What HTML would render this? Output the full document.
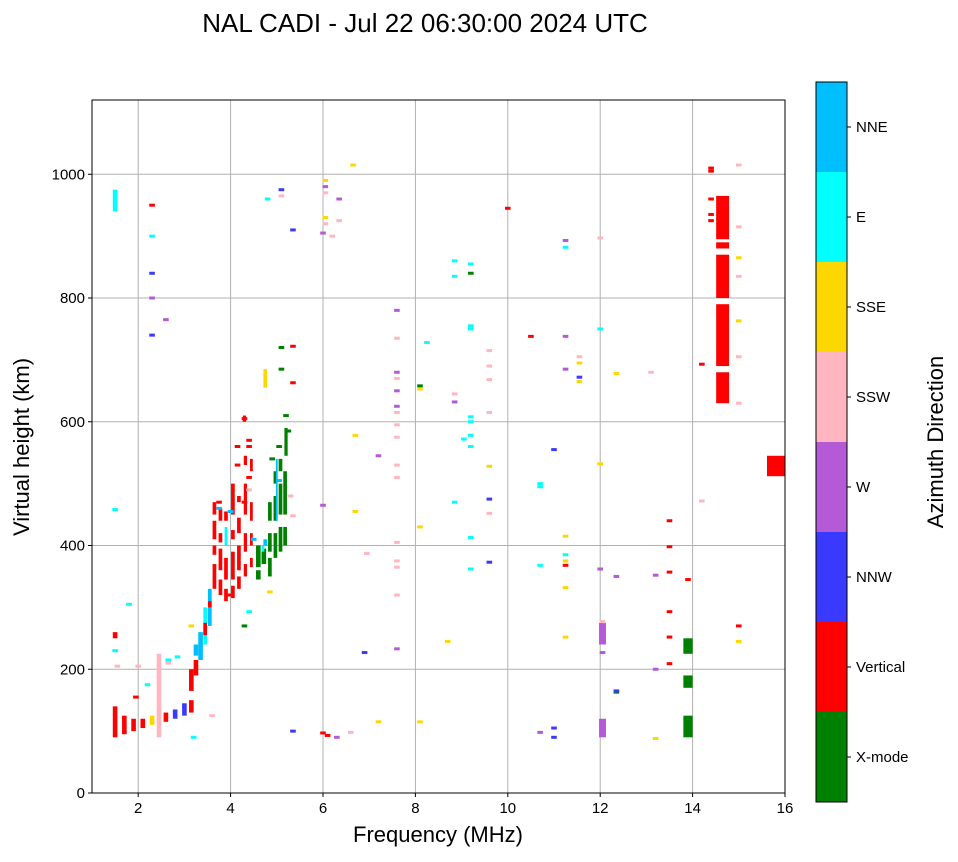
<!DOCTYPE html>
<html><head><meta charset="utf-8">
<style>
body{margin:0;background:#fff;font-family:"Liberation Sans",sans-serif;}
svg text{font-family:"Liberation Sans",sans-serif;}
</style></head>
<body>
<svg id="chart" width="958" height="857" xmlns="http://www.w3.org/2000/svg">
<text x="425" y="32" font-size="26" text-anchor="middle">NAL CADI - Jul 22 06:30:00 2024 UTC</text>
<g id="grid"></g>
<g id="marks"></g>
<rect x="92" y="100" width="693" height="693" fill="none" stroke="#000" stroke-width="1"/>
<g id="ticks"></g>
<text x="438" y="842" font-size="22" text-anchor="middle">Frequency (MHz)</text>
<text x="0" y="0" font-size="22" text-anchor="middle" transform="translate(29,447) rotate(-90)">Virtual height (km)</text>
<g id="cbar"></g>
<text x="0" y="0" font-size="22" text-anchor="middle" transform="translate(943,442) rotate(-90)">Azimuth Direction</text>
</svg>
<script>
const categories=["X-mode","Vertical","NNW","W","SSW","SSE","E","NNE"];
const catColors=["#008000","#ff0000","#3a3aff","#b45ad6","#ffb6c1","#ffd700","#00ffff","#00bfff"];
const xTicks=[2,4,6,8,10,12,14,16];
const yTicks=[0,200,400,600,800,1000];
// spans: [freq, h0, h1, category, bandwidth MHz]
const spans=[
[3.15,130,150,1,0.1],[3.15,165,200,1,0.1],[3.25,190,215,1,0.1],[3.25,222,240,7,0.1],[3.35,215,260,7,0.1],[3.45,240,300,6,0.08],[3.45,255,275,1,0.08],
[3.55,270,330,7,0.08],[3.55,300,310,1,0.08],
[3.65,330,370,1,0.08],[3.65,385,400,1,0.08],[3.65,410,440,1,0.08],[3.65,450,470,1,0.08],
[3.78,320,345,1,0.08],[3.78,360,395,1,0.08],[3.78,405,420,1,0.08],[3.78,440,460,1,0.08],
[3.9,310,330,1,0.08],[3.9,345,380,1,0.08],[3.9,400,430,6,0.06],[3.9,440,455,1,0.08],
[4.05,315,335,1,0.08],[4.05,345,390,1,0.08],[4.05,410,425,1,0.08],[4.05,450,500,1,0.08],
[4.18,330,350,1,0.08],[4.18,360,400,1,0.08],[4.18,420,445,1,0.08],[4.18,470,480,1,0.08],
[4.32,350,370,1,0.07],[4.32,390,420,1,0.07],[4.32,450,500,1,0.07],[4.32,530,545,1,0.07],[4.3,600,610,1,0.07],
[4.45,365,380,1,0.06],[4.45,400,420,1,0.06],[4.45,440,470,1,0.06],[4.45,520,540,1,0.06],
[4.6,345,360,0,0.1],[4.6,365,400,0,0.1],[4.72,370,395,0,0.1],[4.75,400,410,7,0.08],
[4.85,350,380,0,0.08],[4.85,390,420,0,0.08],[4.85,440,470,0,0.08],
[4.97,380,420,0,0.08],[4.97,440,480,0,0.08],[4.97,500,520,0,0.08],
[5.08,390,430,0,0.08],[5.08,450,500,0,0.08],[5.08,520,540,0,0.08],
[5.18,400,430,0,0.08],[5.18,450,520,0,0.08],[5.2,545,590,0,0.07],[5.0,440,540,7,0.04],[4.7,390,400,6,0.06],
[1.5,90,140,1,0.1],[1.7,95,125,1,0.1],[1.9,100,120,1,0.1],[2.1,105,120,1,0.1],[2.3,110,125,5,0.1],
[2.45,90,225,4,0.1],[2.6,115,130,1,0.1],[2.8,120,135,2,0.1],[3.0,125,145,2,0.1],[1.5,940,975,6,0.1],[1.5,250,260,1,0.1],
[14.65,630,680,1,0.28],[14.65,690,790,1,0.28],[14.65,800,870,1,0.28],[14.65,880,890,1,0.28],[14.65,895,965,1,0.28],
[13.9,90,125,0,0.2],[13.9,170,190,0,0.2],[13.9,225,250,0,0.2],
[12.05,90,120,3,0.15],[12.05,240,275,3,0.15],[15.8,512,545,1,0.38],[4.75,655,685,5,0.08]
];
// points: [freq, height, category]
const points=[
[2.3,950,1],[2.3,900,6],[2.3,840,2],[2.3,800,3],[2.3,740,2],[2.6,765,3],[4.8,960,6],[5.1,975,2],[5.1,965,4],[6.05,990,5],[6.05,980,3],[6.05,970,4],[6.05,930,5],[6.05,920,4],[6.2,900,4],[6.35,960,3],[6.35,925,4],[6.65,1015,5],[6.0,905,3],[5.35,910,2],[10.0,945,1],[11.25,893,3],[11.25,882,6],[12.0,897,4],[8.85,860,6],[8.85,835,6],[9.2,855,6],[9.2,840,0],[9.2,755,6],[9.2,750,6],[10.5,738,1],[11.25,738,3],[12.0,750,6],[11.25,685,3],[11.55,705,4],[11.55,695,5],[11.55,672,2],[11.55,665,5],[12.35,678,5],[13.1,680,4],[14.2,693,1],[15.0,865,5],[15.0,835,4],[15.0,763,5],[15.0,705,4],[15.0,630,4],[15.0,915,4],[15.0,1015,4],[14.4,1005,1],[14.4,960,1],[14.4,935,1],[14.4,925,1],[14.4,1010,1],
[7.6,780,3],[7.6,735,4],[7.6,680,3],[7.6,670,4],[7.6,650,3],[7.6,625,3],[7.6,615,4],[7.6,595,4],[7.6,575,4],[7.6,530,4],[7.6,510,4],[7.6,405,4],[7.6,375,4],[7.6,365,4],[7.6,320,4],[7.6,233,3],[8.25,728,6],[8.1,658,0],[8.1,653,5],[8.85,645,4],[8.85,632,3],[9.2,608,6],[9.2,600,6],[9.2,578,6],[9.2,560,6],[9.05,572,6],[9.6,715,4],[9.6,690,4],[9.6,668,4],[9.6,615,4],[9.6,528,5],[9.6,475,2],[9.6,452,4],[9.6,373,2],[9.2,413,6],[9.2,362,6],[8.85,470,6],[10.7,500,6],[10.7,495,6],[11.0,555,2],[12.0,532,5],[11.25,415,5],[11.25,385,6],[11.25,375,5],[11.25,368,1],[11.25,332,5],[10.7,368,6],[12.0,362,3],[12.35,350,3],[13.2,352,3],[13.5,440,1],[13.5,398,1],[13.5,357,1],[13.5,293,1],[13.5,252,1],[13.5,209,1],[13.9,345,1],[13.2,200,3],[14.2,472,4],[12.35,163,0],[12.35,165,2],[13.2,88,5],[12.05,277,4],[12.05,227,3],[11.25,252,5],[11.0,105,2],[11.0,90,2],[10.7,98,3],[15.0,270,1],[15.0,245,5],[8.7,245,5],[8.1,430,5],[8.1,115,5],[7.2,115,5],[6.9,227,2],[6.95,387,4],[6.7,455,5],[6.7,578,5],[7.2,545,3],[6.0,465,3],[6.6,98,4],[6.3,90,3],[6.1,93,1],[6.0,97,1],[5.35,100,2],[5.35,448,4],[5.35,663,1],[5.35,722,1],[5.1,720,0],[5.1,685,0],[4.85,325,5],[4.3,270,0],[4.4,293,6],[3.6,125,4],[3.2,90,6],[3.15,270,5],[2.85,220,6],[2.65,210,4],[2.65,215,6],[2.2,175,6],[1.8,305,6],[1.5,458,6],[1.5,230,6],[1.55,205,4],[1.95,155,1],[2.0,205,4],[4.3,605,1],[4.4,570,1],[4.4,560,1],[5.2,610,0],[5.25,585,0],
[4.15,560,1],[4.15,530,1],[4.4,510,1],[4.4,490,4],[4.3,470,1],[3.75,470,1],[3.75,460,7],[4.0,455,7],[3.95,320,1],[4.9,540,0],[5.05,560,0],[5.05,505,7],[5.3,480,4],[4.5,410,7]
];
const NS="http://www.w3.org/2000/svg";
const X0=92,X1=785,Y0=793,Y1=100,FMIN=1,FMAX=16,HMIN=0,HMAX=1120;
function xs(f){return X0+(f-FMIN)/(FMAX-FMIN)*(X1-X0);}
function ys(h){return Y0-(h-HMIN)/(HMAX-HMIN)*(Y0-Y1);}
function mk(tag,attrs,parent){const e=document.createElementNS(NS,tag);for(const k in attrs)e.setAttribute(k,attrs[k]);parent.appendChild(e);return e;}
const grid=document.getElementById('grid'),marks=document.getElementById('marks'),ticks=document.getElementById('ticks'),cbar=document.getElementById('cbar');
xTicks.forEach(t=>{
 const x=xs(t);
 const l=mk('line',{x1:x,x2:x,y1:Y1,y2:Y0,stroke:'#b0b0b0','stroke-width':1},grid);
 
 
 const tk=mk('line',{x1:x,x2:x,y1:Y0,y2:Y0+4,stroke:'#000'},ticks);
 
 
 const tx=mk('text',{x:x,y:Y0+20,'font-size':15,'text-anchor':'middle'},ticks);tx.textContent=t;
 
 
});
yTicks.forEach(t=>{
 const y=ys(t);
 const l=mk('line',{x1:X0,x2:X1,y1:y,y2:y,stroke:'#b0b0b0','stroke-width':1},grid);
 
 
 const tk=mk('line',{x1:X0-4,x2:X0,y1:y,y2:y,stroke:'#000'},ticks);
 
 
 const tx=mk('text',{x:X0-7,y:y+5,'font-size':15,'text-anchor':'end'},ticks);tx.textContent=t;
 
 
});
spans.forEach(s=>{
 const x=xs(s[0]-s[4]/2),w=xs(s[0]+s[4]/2)-x,y=ys(s[2]),h=ys(s[1])-y;
 const r=mk('rect',{x:x,y:y,width:w,height:h,fill:catColors[s[3]]},marks);
 
 
});
points.forEach(p=>{
 const r=mk('rect',{x:xs(p[0])-2.8,y:ys(p[1])-1.5,width:5.6,height:3,fill:catColors[p[2]]},marks);
 
 
});
const CB0=82,CB1=802,CBX=816,CBW=31,n=categories.length,seg=(CB1-CB0)/n;
categories.forEach((c,i)=>{
 const y=CB1-(i+1)*seg;
 const r=mk('rect',{x:CBX,y:y,width:CBW,height:seg,fill:catColors[i]},cbar);
 
 
 const tk=mk('line',{x1:CBX+CBW,x2:CBX+CBW+4,y1:y+seg/2,y2:y+seg/2,stroke:'#000'},cbar);
 
 
 const tx=mk('text',{x:CBX+CBW+9,y:y+seg/2+5,'font-size':15},cbar);tx.textContent=c;
 
 
});
const fr=mk('rect',{x:CBX,y:CB0,width:CBW,height:CB1-CB0,fill:'none',stroke:'#000'},cbar);


</script>
</body></html>
